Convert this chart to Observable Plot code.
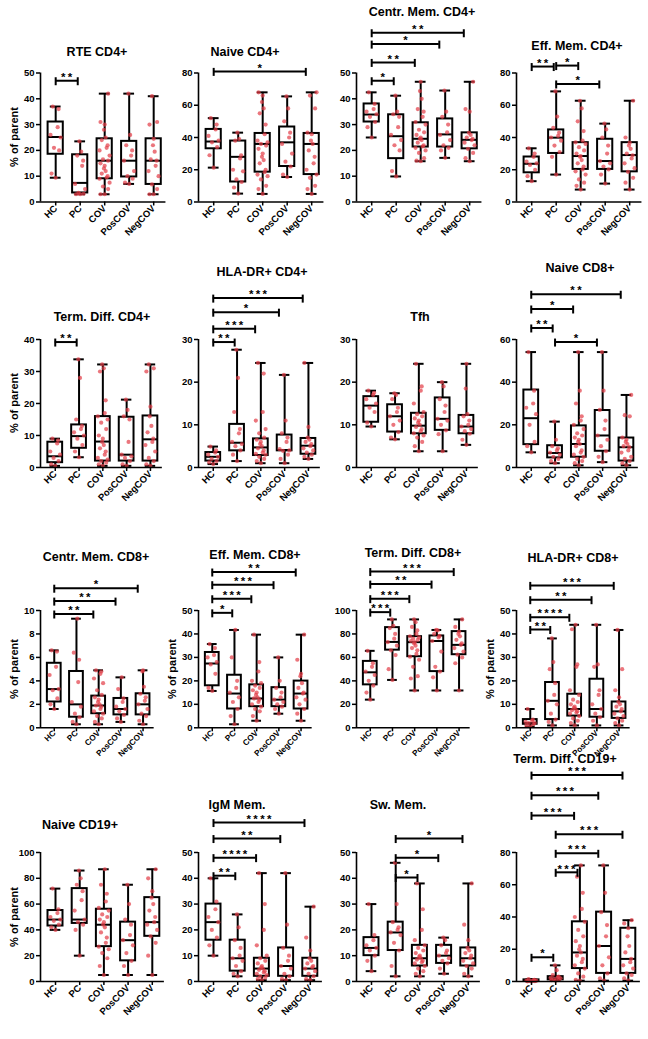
<!DOCTYPE html>
<html><head><meta charset="utf-8">
<script src="https://cdn.jsdelivr.net/npm/d3@7"></script>
<script src="https://cdn.jsdelivr.net/npm/@observablehq/plot@0.6"></script>
<style>
body{margin:0;background:#fff;}
#chart{position:relative;width:648px;height:1039px;overflow:hidden;background:#fff;font-family:'Liberation Sans',Arial,sans-serif;color:#000;}
.panel{position:absolute;}
.title{position:absolute;transform:translate(-50%,-50%);font-weight:bold;font-size:12.5px;white-space:nowrap;}
.ylab{position:absolute;transform:translate(-50%,-50%) rotate(-90deg);font-weight:bold;font-size:11px;white-space:nowrap;}
</style></head><body><div id="chart"></div>
<script>
const groups = ["HC", "PC", "COV", "PosCOV", "NegCOV"];
const yLabelText = "% of parent";

// ---- Panel 1: RTE CD4+ ----
const rteCD4_title = "RTE CD4+";
const rteCD4_ticks = [0, 10, 20, 30, 40, 50];
const rteCD4_box = [[9.4, 18.5, 25.2, 31, 37], [3, 3.5, 7.4, 18.3, 23.5], [3, 9, 16, 24.5, 42], [7, 9.7, 16, 23.5, 42], [3, 6.8, 16, 24.5, 41]];
const rteCD4_pts = [[9.4, 11, 20, 21, 25, 26, 29, 36, 37], [3, 3, 3.2, 3.5, 5, 7, 14, 16, 18, 19.5, 23.5], [3, 3, 5, 6, 7.5, 9, 9.5, 10, 11, 12, 13, 14, 15, 16, 16.5, 18, 20, 21, 22, 24, 25, 28, 30, 31, 42], [7, 7.5, 9, 10, 12, 16, 18, 20, 22, 26, 42], [3, 3, 5, 6.8, 10, 12, 14, 16, 16.5, 19.5, 22, 24.5, 30, 31, 41]];
const rteCD4_sig = [[0, 1, 47, "**"]];

// ---- Panel 2: Naive CD4+ ----
const naiveCD4_title = "Naive CD4+";
const naiveCD4_ticks = [0, 20, 40, 60, 80];
const naiveCD4_box = [[21.3, 33, 37.5, 45, 52], [5.2, 12.4, 28, 37.8, 43], [5, 18.5, 36, 42.5, 68], [15.5, 22, 37, 46.5, 65.5], [5, 17, 36, 42.5, 68]];
const naiveCD4_pts = [[21.3, 29, 34, 37, 38, 41, 45, 48, 52], [5.2, 9, 12.4, 14, 19, 20, 27, 29, 38, 39, 43], [5, 8, 10, 14, 16, 17, 18.5, 20, 24, 26, 28, 30, 33, 35, 36, 37, 38, 42, 48, 55, 58, 62, 66, 68], [15.5, 17, 22, 25, 30, 36, 40, 43, 50, 58, 65.5], [5, 8, 10, 15, 17, 20, 24, 28, 32, 36, 38, 42, 43, 58, 66, 68]];
const naiveCD4_sig = [[0, 4, 81, "*"]];

// ---- Panel 3: Centr. Mem. CD4+ ----
const cmCD4_title = "Centr. Mem. CD4+";
const cmCD4_ticks = [0, 10, 20, 30, 40, 50];
const cmCD4_box = [[25, 31, 33.9, 38, 42.5], [9.9, 16.8, 25.5, 33.8, 41.2], [15.8, 21.3, 24.5, 30.7, 46.6], [17.1, 21.3, 26.2, 32.2, 43.2], [15.8, 20.6, 24.1, 26.8, 46.6]];
const cmCD4_pts = [[25, 29, 31, 33, 34, 35, 36, 38, 42.5], [9.9, 12, 20, 22, 24, 26, 29, 33, 34, 35, 41.2], [15.8, 16, 17, 19, 20, 21, 21.5, 22, 23, 24, 24.5, 25, 26, 27, 28, 30, 31, 33, 35, 36, 40, 43, 46.6], [17.1, 20, 21, 22, 24, 26, 27, 30, 33, 35, 43.2], [15.8, 17, 19, 20.6, 22, 23, 24, 24.5, 25, 26, 26.8, 35, 36, 46.6]];
const cmCD4_sig = [[0, 1, 47, "*"], [0, 2, 54.1, "**"], [0, 3, 61.2, "*"], [0, 4, 65.6, "**"]];

// ---- Panel 4: Eff. Mem. CD4+ ----
const emCD4_title = "Eff. Mem. CD4+";
const emCD4_ticks = [0, 20, 40, 60, 80];
const emCD4_box = [[12.9, 18.1, 23.7, 27.9, 33.3], [17, 30.1, 39.9, 44.7, 68.6], [7.7, 20.2, 28.5, 36.8, 62.8], [11.4, 20.2, 25.4, 38.9, 48.6], [7.7, 18.7, 29.1, 36.8, 62.8]];
const emCD4_pts = [[12.9, 16, 20, 23, 24, 25, 28, 30, 33.3], [17, 28, 31, 35, 38, 40, 41, 43, 46, 53, 68.6], [7.7, 10, 12, 14, 17, 19, 20.2, 22, 24, 26, 28, 28.5, 30, 32, 34, 36, 37, 38, 44, 50, 58, 62.8], [11.4, 17, 20.2, 22, 24, 25.4, 30, 35, 40, 45, 48.6], [7.7, 12, 15, 18.7, 21, 24, 27, 29, 30, 33, 35, 36.8, 40, 62.8]];
const emCD4_sig = [[0, 1, 84, "**"], [1, 2, 84.6, "*"], [1, 3, 73.2, "*"]];

// ---- Panel 5: Term. Diff. CD4+ ----
const tdCD4_title = "Term. Diff. CD4+";
const tdCD4_ticks = [0, 10, 20, 30, 40];
const tdCD4_box = [[0.5, 1.5, 3.5, 7.9, 9], [3.2, 6, 9.8, 13.3, 33.8], [0.5, 2, 8.1, 15.9, 32.2], [0.5, 2, 4, 15.7, 21.2], [0.5, 2, 8.8, 16.1, 32.2]];
const tdCD4_pts = [[0.5, 1, 2, 3, 4, 5, 7.5, 8.5, 9], [3.2, 5, 7, 9, 10, 11, 12, 13, 15, 28, 33.8], [0.5, 1, 1.5, 2, 2.5, 3, 4, 5, 6, 7, 8, 9, 10, 12, 14, 15, 16, 17, 21, 30, 31, 32.2], [0.5, 1, 2, 3, 3.5, 4, 8, 15, 16, 18, 21.2], [0.5, 1, 2, 3, 5, 7, 8, 9, 11, 13, 16, 19, 30, 31, 32.2]];
const tdCD4_sig = [[0, 1, 39.2, "**"]];

// ---- Panel 6: HLA-DR+ CD4+ ----
const hlaCD4_title = "HLA-DR+ CD4+";
const hlaCD4_ticks = [0, 10, 20, 30];
const hlaCD4_box = [[0.8, 1.5, 2.5, 3.5, 4.9], [1.5, 3.9, 5.8, 10.1, 27.6], [1, 2.8, 4.7, 6.7, 24.5], [1, 3.9, 4.1, 7.6, 21.7], [2, 3.1, 5.1, 6.8, 24.5]];
const hlaCD4_pts = [[0.8, 1.2, 1.5, 2, 2.5, 3, 3.5, 4, 4.9], [1.5, 3, 4, 5, 5.5, 6, 8, 9, 13, 21, 27.6], [1, 1.5, 2, 2.5, 3, 3.2, 3.5, 4, 4.5, 5, 5.5, 6, 6.5, 7, 8, 9, 11, 13, 22, 24.5], [1, 2, 3, 3.9, 4, 4.3, 6, 7, 8, 11, 21.7], [2, 2.5, 3, 3.5, 4, 4.5, 5, 5.5, 6, 6.5, 7, 9.5, 24.5]];
const hlaCD4_sig = [[0, 1, 29.4, "**"], [0, 2, 32.5, "***"], [0, 3, 36.4, "*"], [0, 4, 39.7, "***"]];

// ---- Panel 7: Tfh ----
const tfh_title = "Tfh";
const tfh_ticks = [0, 10, 20, 30];
const tfh_box = [[9.6, 10.6, 14.5, 16.6, 18], [6.6, 8.3, 12, 14.7, 17.4], [3.8, 7.9, 9.8, 12.7, 24.3], [3.8, 8.7, 11.4, 16.3, 20], [5.3, 7.9, 9.6, 12.2, 24.3]];
const tfh_pts = [[9.6, 10.5, 13, 14, 15, 16, 17, 17.5, 18], [6.6, 7, 8.3, 10, 11, 12, 13, 14, 16, 17, 17.4], [3.8, 5, 6, 7, 7.5, 8, 8.5, 9, 9.5, 10, 10.5, 11, 11.5, 12, 12.5, 13, 15, 18, 19, 24.3], [3.8, 7.8, 8.7, 10, 11, 11.4, 13, 14.5, 16, 19, 20], [5.3, 6.5, 7.9, 8.5, 9, 9.6, 10, 11, 12, 12.5, 18.5, 24.3]];
const tfh_sig = [];

// ---- Panel 8: Naive CD8+ ----
const naiveCD8_title = "Naive CD8+";
const naiveCD8_ticks = [0, 20, 40, 60];
const naiveCD8_box = [[7.1, 10.7, 23.1, 36.3, 54.1], [2, 4.5, 6.8, 10.2, 21.5], [1, 4.8, 11, 19.5, 54.1], [2.5, 7.6, 15, 26.7, 54.1], [1, 3, 9.5, 13.8, 34]];
const naiveCD8_pts = [[7.1, 10, 12, 20, 25, 28, 30, 36, 54.1], [2, 3, 4, 5, 6, 7, 8, 9, 10, 13, 21.5], [1, 2, 3, 4, 5, 6, 7, 8, 10, 11, 12, 13, 14, 15, 16, 18, 20, 22, 24, 30, 36, 54.1], [2.5, 5, 7.6, 10, 13, 15, 18, 22, 27, 36, 54.1], [1, 2, 3, 4, 5, 7, 8, 9.5, 10, 11, 12, 13, 14, 24, 24.5, 34]];
const naiveCD8_sig = [[0, 1, 65.4, "**"], [1, 3, 58.8, "*"], [0, 2, 74.3, "*"], [0, 4, 81.2, "**"]];

// ---- Panel 9: Centr. Mem. CD8+ ----
const cmCD8_title = "Centr. Mem. CD8+";
const cmCD8_ticks = [0, 2, 4, 6, 8, 10];
const cmCD8_box = [[1.6, 2.2, 3.3, 5.5, 6.6], [0.3, 0.9, 2, 4.8, 9.3], [0.3, 1.2, 1.9, 2.7, 4.9], [0.5, 1.1, 1.6, 2.5, 4.3], [0.3, 1.1, 2, 2.9, 4.9]];
const cmCD8_pts = [[1.6, 2, 2.5, 3.2, 3.3, 4.5, 5.2, 6.5, 6.6], [0.3, 0.5, 0.9, 1.2, 1.8, 2.2, 3.9, 5.8, 6.4, 9.3], [0.3, 0.5, 0.8, 1, 1.2, 1.4, 1.6, 1.8, 1.9, 2, 2.2, 2.4, 2.6, 2.8, 3.2, 3.8, 4.2, 4.6, 4.8, 4.9], [0.5, 0.8, 1.1, 1.4, 1.6, 1.8, 2.2, 2.5, 3.3, 4.3], [0.3, 0.6, 1, 1.2, 1.6, 2, 2.3, 2.6, 2.9, 3.5, 4.8, 4.9]];
const cmCD8_sig = [[0, 2, 9.7, "**"], [0, 3, 10.8, "**"], [0, 4, 11.9, "*"]];

// ---- Panel 10: Eff. Mem. CD8+ ----
const emCD8_title = "Eff. Mem. CD8+";
const emCD8_ticks = [0, 10, 20, 30, 40, 50];
const emCD8_box = [[15.7, 17.9, 27.4, 32.1, 35.7], [1.5, 8, 14.6, 22.4, 41.7], [3, 9, 12.5, 18.3, 39.7], [6, 9, 12, 17.1, 30], [3, 8, 14.6, 19.9, 39.7]];
const emCD8_pts = [[15.7, 17, 23, 27, 28, 30, 31, 34, 35.7], [1.5, 5, 8, 11, 13, 15, 17, 20, 30, 41.7], [3, 5, 7, 8, 9, 10, 11, 12, 12.5, 13, 14, 15, 16, 17, 18, 19, 20, 24, 28, 39.7], [6, 8, 9, 10, 11, 12, 13, 15, 17, 20, 30], [3, 6, 8, 10, 12, 13, 14.6, 15, 17, 19, 22, 23, 29, 39.7]];
const emCD8_sig = [[0, 1, 49, "*"], [0, 2, 55, "***"], [0, 3, 61, "***"], [0, 4, 66.4, "**"]];

// ---- Panel 11: Term. Diff. CD8+ ----
const tdCD8_title = "Term. Diff. CD8+";
const tdCD8_ticks = [0, 20, 40, 60, 80, 100];
const tdCD8_box = [[24, 36.6, 47.3, 56.6, 65.6], [40.8, 66.2, 73.2, 85.4, 92.4], [31.8, 60.6, 73, 77.7, 92.4], [31.8, 47.9, 74, 78.3, 83.4], [31.8, 62.3, 70.7, 82, 92.4]];
const tdCD8_pts = [[24, 30, 36, 40, 45, 48, 52, 55, 65.6], [40.8, 50, 62, 66, 70, 73, 76, 80, 85, 87, 92.4], [31.8, 42, 44, 52, 58, 60.6, 63, 66, 68, 70, 72, 73, 74, 75, 76, 77, 78, 80, 83, 86, 90, 92.4], [31.8, 43, 47.9, 52, 65, 74, 77, 78.3, 80, 83, 83.4], [31.8, 55, 60, 62.3, 65, 68, 70.7, 72, 75, 78, 80, 82, 86, 92.4]];
const tdCD8_sig = [[0, 1, 98.6, "***"], [0, 2, 110.1, "***"], [0, 3, 122.5, "**"], [0, 4, 133.2, "***"]];

// ---- Panel 12: HLA-DR+ CD8+ ----
const hlaCD8_title = "HLA-DR+ CD8+";
const hlaCD8_ticks = [0, 10, 20, 30, 40, 50];
const hlaCD8_box = [[0.5, 1.5, 2, 3.5, 8], [1, 3.5, 11.5, 19.3, 38.1], [1, 5, 8, 14.3, 43.9], [1, 4.5, 8, 20.7, 43.9], [1, 4, 7, 11, 41.7]];
const hlaCD8_pts = [[0.5, 1, 1.5, 2, 2, 2.5, 3, 3.5, 8], [1, 2.5, 3.5, 6, 10, 11.5, 14, 19, 25, 28, 38.1], [1, 2, 3, 4, 5, 6, 6.5, 7, 7.5, 8, 8.5, 9, 10, 11, 12, 14, 16, 26, 27, 42, 43.9], [1, 3, 4.5, 6, 8, 10, 14, 16, 26, 27, 43.9], [1, 2, 3, 4, 5, 6, 7, 8, 9, 10, 11, 13, 16, 25, 41.7]];
const hlaCD8_sig = [[0, 1, 41.9, "**"], [0, 2, 47.1, "****"], [0, 3, 54.6, "**"], [0, 4, 60.7, "***"]];

// ---- Panel 13: Naive CD19+ ----
const naiveCD19_title = "Naive CD19+";
const naiveCD19_ticks = [0, 20, 40, 60, 80, 100];
const naiveCD19_box = [[40, 43, 48, 55, 72], [20, 45, 48, 72, 86], [5, 27, 44, 56, 87], [5, 16, 32, 46, 75], [5, 35, 46, 65, 87]];
const naiveCD19_pts = [[40, 42, 44, 47, 48, 50, 53, 56, 72], [20, 40, 44, 46, 48, 55, 63, 70, 75, 80, 86], [5, 12, 18, 22, 25, 27, 30, 34, 38, 42, 44, 46, 48, 50, 52, 55, 57, 62, 68, 75, 87], [5, 12, 16, 22, 28, 32, 36, 44, 48, 60, 75], [5, 20, 30, 35, 40, 44, 46, 50, 55, 60, 65, 70, 80, 87]];
const naiveCD19_sig = [];

// ---- Panel 14: IgM Mem. ----
const igm_title = "IgM Mem.";
const igm_ticks = [0, 10, 20, 30, 40, 50];
const igm_box = [[10, 16, 23, 30, 40], [2, 4, 9, 16, 26], [0.5, 2, 5, 9, 42], [0.5, 2, 6, 13, 42], [0.5, 2, 5, 9, 29]];
const igm_pts = [[10, 14, 17, 20, 23, 25, 28, 31, 40], [2, 3, 4, 6, 8, 9, 10, 13, 16, 21, 26], [0.5, 1, 1.5, 2, 2.5, 3, 3.5, 4, 4.5, 5, 5.5, 6, 7, 8, 9, 10, 14, 20, 30, 42], [0.5, 1, 2, 3, 5, 6, 8, 10, 13, 22, 42], [0.5, 1, 2, 3, 4, 5, 5.5, 6, 7, 8, 9, 12, 17, 29]];
const igm_sig = [[0, 1, 41, "**"], [0, 2, 48, "****"], [0, 3, 55.4, "**"], [0, 4, 61.6, "****"]];

// ---- Panel 15: Sw. Mem. ----
const sw_title = "Sw. Mem.";
const sw_ticks = [0, 10, 20, 30, 40, 50];
const sw_box = [[4, 10, 13, 17, 30], [2, 12, 19, 23, 46], [2, 6, 9, 14, 38], [3, 7, 10, 14, 17], [2, 6, 9, 13, 38]];
const sw_pts = [[4, 8, 10, 12, 13, 14, 16, 18, 30], [2, 6, 12, 15, 18, 19, 20, 21, 23, 30, 46], [2, 3, 4, 5, 6, 7, 7.5, 8, 8.5, 9, 9.5, 10, 11, 12, 13, 14, 16, 20, 28, 38], [3, 5, 7, 8, 9, 10, 11, 12, 14, 16, 17], [2, 3, 5, 6, 7, 8, 9, 10, 11, 12, 13, 16, 22, 38]];
const sw_sig = [[1, 2, 40.3, "*"], [1, 3, 48, "*"], [1, 4, 55.4, "*"]];

// ---- Panel 16: Term. Diff. CD19+ ----
const tdCD19_title = "Term. Diff. CD19+";
const tdCD19_ticks = [0, 20, 40, 60, 80];
const tdCD19_box = [[0, 0.2, 0.5, 1, 1.5], [0.5, 1, 2, 3, 10], [0.5, 8, 18, 37, 72], [0.5, 5, 22, 43, 72], [0.5, 5, 14, 33, 38]];
const tdCD19_pts = [[0, 0.1, 0.2, 0.3, 0.5, 0.6, 0.8, 1, 1.5], [0.5, 0.8, 1, 1.5, 2, 2.2, 2.5, 3, 4, 7, 10], [0.5, 1, 3, 5, 8, 10, 12, 14, 16, 18, 20, 22, 25, 28, 32, 37, 40, 45, 55, 65, 72], [0.5, 2, 5, 10, 15, 22, 28, 35, 43, 55, 72], [0.5, 2, 4, 5, 8, 10, 12, 14, 18, 22, 28, 33, 36, 38]];
const tdCD19_sig = [[0, 1, 15, "*"], [1, 2, 67.7, "***"], [1, 3, 79.5, "***"], [1, 4, 91.3, "***"], [0, 2, 103, "***"], [0, 3, 115.5, "***"], [0, 4, 128, "***"]];

const panels = [
  {title: rteCD4_title, ticks: rteCD4_ticks, box: rteCD4_box, pts: rteCD4_pts, sig: rteCD4_sig},
  {title: naiveCD4_title, ticks: naiveCD4_ticks, box: naiveCD4_box, pts: naiveCD4_pts, sig: naiveCD4_sig},
  {title: cmCD4_title, ticks: cmCD4_ticks, box: cmCD4_box, pts: cmCD4_pts, sig: cmCD4_sig},
  {title: emCD4_title, ticks: emCD4_ticks, box: emCD4_box, pts: emCD4_pts, sig: emCD4_sig},
  {title: tdCD4_title, ticks: tdCD4_ticks, box: tdCD4_box, pts: tdCD4_pts, sig: tdCD4_sig},
  {title: hlaCD4_title, ticks: hlaCD4_ticks, box: hlaCD4_box, pts: hlaCD4_pts, sig: hlaCD4_sig},
  {title: tfh_title, ticks: tfh_ticks, box: tfh_box, pts: tfh_pts, sig: tfh_sig},
  {title: naiveCD8_title, ticks: naiveCD8_ticks, box: naiveCD8_box, pts: naiveCD8_pts, sig: naiveCD8_sig},
  {title: cmCD8_title, ticks: cmCD8_ticks, box: cmCD8_box, pts: cmCD8_pts, sig: cmCD8_sig},
  {title: emCD8_title, ticks: emCD8_ticks, box: emCD8_box, pts: emCD8_pts, sig: emCD8_sig},
  {title: tdCD8_title, ticks: tdCD8_ticks, box: tdCD8_box, pts: tdCD8_pts, sig: tdCD8_sig},
  {title: hlaCD8_title, ticks: hlaCD8_ticks, box: hlaCD8_box, pts: hlaCD8_pts, sig: hlaCD8_sig},
  {title: naiveCD19_title, ticks: naiveCD19_ticks, box: naiveCD19_box, pts: naiveCD19_pts, sig: naiveCD19_sig},
  {title: igm_title, ticks: igm_ticks, box: igm_box, pts: igm_pts, sig: igm_sig},
  {title: sw_title, ticks: sw_ticks, box: sw_box, pts: sw_pts, sig: sw_sig},
  {title: tdCD19_title, ticks: tdCD19_ticks, box: tdCD19_box, pts: tdCD19_pts, sig: tdCD19_sig}
];
const withYLabel = [0, 4, 8, 9, 11, 12];

// ---- layout (positions / styles only) ----
const rows = [
  {top: 0, mt: 72.5, h: 129, step: 24.5, mb: 48, fs: 9.5, tp: 1},
  {top: 250, mt: 89, h: 128, step: 23.8, mb: 48, fs: 9.5, tp: 1},
  {top: 515, mt: 95, h: 117.3, step: 22.2, mb: 48, fs: 8.2, tp: 0},
  {top: 740, mt: 112, h: 129, step: 24.2, mb: 48, fs: 9.5, tp: 1}
];
const colAxis = [39.5, 197.5, 355.5, 515.5];
const titlePos = [[97, 52], [245, 52], [422, 12], [577, 46], [102, 317], [262, 272], [420, 317], [580, 268],
  [96, 557], [255, 555], [413, 553], [573, 558], [80, 825], [237, 805], [398, 805], [565, 759]];
const J = [0, -0.17, 0.14, -0.07, 0.2, -0.21, 0.08, 0.12, -0.12, 0.04, -0.03];
const vtick = {draw(ctx) { ctx.moveTo(0, -3.5); ctx.lineTo(0, 4.5); }};
const RED = "#e23c46";

const chart = document.getElementById("chart");

panels.forEach((p, idx) => {
  const r = Math.floor(idx / 4), c = idx % 4;
  const R = rows[r];
  const ML = 34, MR = 8, x0 = -0.62, x1 = 4.5;
  const W = ML + (x1 - x0) * R.step + MR;
  const H = R.mt + R.h + R.mb;
  const ymax = p.ticks[p.ticks.length - 1];
  const stats = p.box.map((s, i) => ({i, min: s[0], q1: s[1], med: s[2], q3: s[3], max: s[4]}));
  const pts = p.pts.flatMap((arr, i) => arr.map((v, k) => ({x: i + J[k % J.length], v})));
  const sig = p.sig.map(([a, b, y, t]) => ({a, b: b - (b - a > 1 ? 0.24 : 0.1), y, t: t.split("").join("\u2009")}));
  const ends = sig.flatMap(s => [{x: s.a, y: s.y}, {x: s.b, y: s.y}]);

  const svg = Plot.plot({
    width: W, height: H,
    marginLeft: ML, marginRight: MR, marginTop: R.mt, marginBottom: R.mb,
    x: {domain: [x0, x1]},
    y: {domain: [0, ymax]},
    style: `font-family:'Liberation Sans',Arial,sans-serif;font-size:9.5px;font-weight:bold;background:transparent;overflow:visible;max-width:none;color:#000;`,
    marks: [
      Plot.ruleX(stats, {x: "i", y1: "min", y2: "max", stroke: "#000", strokeWidth: 2}),
      Plot.rect(stats, {x1: d => d.i - 0.31, x2: d => d.i + 0.31, y1: "q1", y2: "q3", fill: "white", stroke: "#000", strokeWidth: 2}),
      Plot.ruleY(stats, {x1: d => d.i - 0.22, x2: d => d.i + 0.22, y: "min", stroke: "#000", strokeWidth: 2}),
      Plot.ruleY(stats, {x1: d => d.i - 0.22, x2: d => d.i + 0.22, y: "max", stroke: "#000", strokeWidth: 2}),
      Plot.ruleY(stats, {x1: d => d.i - 0.31, x2: d => d.i + 0.31, y: "med", stroke: "#000", strokeWidth: 2}),
      Plot.dot(pts, {x: "x", y: "v", r: 2.1, fill: RED, fillOpacity: 0.7, stroke: "none"}),
      Plot.ruleX([x0], {y1: 0, y2: ymax, stroke: "#000", strokeWidth: 1.6}),
      Plot.ruleY([0], {stroke: "#000", strokeWidth: 1.6}),
      Plot.ruleY(sig, {x1: "a", x2: "b", y: "y", stroke: "#000", strokeWidth: 2}),
      Plot.dot(ends, {x: "x", y: "y", symbol: vtick, r: 4, fill: "none", stroke: "#000", strokeWidth: 2}),
      Plot.text(sig, {x: d => (d.a + d.b) / 2, y: "y", text: "t", dy: -3.5, fontSize: 11.5, fontWeight: "bold", fill: "#000"}),
      Plot.axisY({ticks: p.ticks, tickSize: 4, tickPadding: 2, label: null, strokeWidth: 1.5}),
      Plot.axisX({ticks: [0, 1, 2, 3, 4], tickFormat: i => groups[i], tickRotate: -45, tickSize: 4, tickPadding: R.tp, fontSize: R.fs, label: null, strokeWidth: 1.5})
    ]
  });
  const div = document.createElement("div");
  div.className = "panel";
  div.style.left = (colAxis[c] - ML) + "px";
  div.style.top = R.top + "px";
  div.style.width = W + "px";
  div.appendChild(svg);
  chart.appendChild(div);

  const t = document.createElement("div");
  t.className = "title";
  t.textContent = p.title;
  t.style.left = titlePos[idx][0] + "px";
  t.style.top = titlePos[idx][1] + "px";
  chart.appendChild(t);

  if (withYLabel.includes(idx)) {
    const yl = document.createElement("div");
    yl.className = "ylab";
    yl.textContent = yLabelText;
    yl.style.left = (colAxis[c] - 26) + "px";
    yl.style.top = (R.top + R.mt + R.h / 2) + "px";
    chart.appendChild(yl);
  }
});
</script></body></html>
